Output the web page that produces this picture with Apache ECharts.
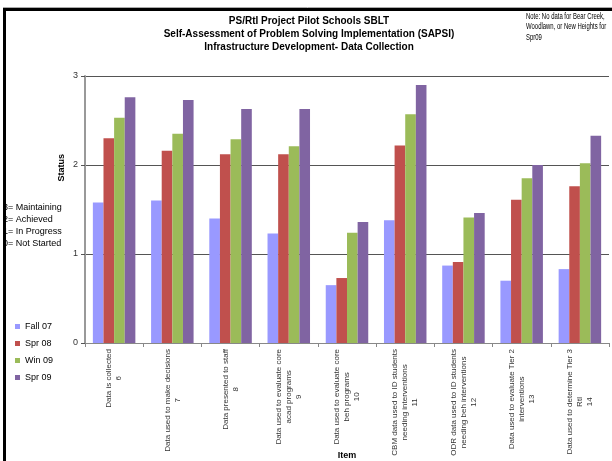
<!DOCTYPE html>
<html>
<head>
<meta charset="utf-8">
<script src="https://cdn.jsdelivr.net/npm/echarts@6/dist/echarts.min.js"></script>
<style>
  html, body { margin: 0; padding: 0; background: #fff; }
  #chart { width: 612px; height: 461px; }
</style>
</head>
<body>
<div id="chart"></div>
<script>
// Item categories (label text, item number on last line)
const categories = [
  'Data is collected\n6',
  'Data used to make decisions\n7',
  'Data presented to staff\n8',
  'Data used to evaluate core\nacad programs\n9',
  'Data used to evaluate core\nbeh programs\n10',
  'CBM data used to ID students\nneeding interventions\n11',
  'ODR data used to ID students\nneeding beh interventions\n12',
  'Data used to evaluate Tier 2\ninterventions\n13',
  'Data used to determine Tier 3\nRtI\n14'
];

// Average status per assessment window
const fall07 = [1.58, 1.60, 1.40, 1.23, 0.65, 1.38, 0.87, 0.70, 0.83];
const spr08  = [2.30, 2.16, 2.12, 2.12, 0.73, 2.22, 0.91, 1.61, 1.76];
const win09  = [2.53, 2.35, 2.29, 2.21, 1.24, 2.57, 1.41, 1.85, 2.02];
const spr09  = [2.76, 2.73, 2.63, 2.63, 1.36, 2.90, 1.46, 2.00, 2.33];

const seriesNames = ['Fall 07', 'Spr 08', 'Win 09', 'Spr 09'];
const seriesColors = ['#9999FF', '#C0504D', '#9BBB59', '#8064A2'];
const seriesData = [fall07, spr08, win09, spr09];

const yTicks = [0, 1, 2, 3];
const scaleKey = ['3= Maintaining', '2= Achieved', '1= In Progress', '0= Not Started'];

const FONT = 'Liberation Sans, Arial, sans-serif';

const chart = echarts.init(document.getElementById('chart'), null, { renderer: 'canvas' });

chart.setOption({
  animation: false,
  backgroundColor: '#ffffff',
  title: {
    text: 'PS/RtI Project Pilot Schools SBLT\nSelf-Assessment of Problem Solving Implementation (SAPSI)\nInfrastructure Development- Data Collection',
    left: 304,
    top: 10,
    textAlign: 'center',
    textStyle: { fontFamily: FONT, fontSize: 10, fontWeight: 'bold', color: '#000', lineHeight: 13 }
  },
  legend: {
    orient: 'vertical',
    left: 10,
    top: 317,
    itemWidth: 5,
    itemHeight: 5,
    itemGap: 8,
    icon: 'rect',
    data: seriesNames,
    textStyle: { fontFamily: FONT, fontSize: 9, color: '#000' }
  },
  grid: { left: 85, right: 3, top: 76, bottom: 118, containLabel: false, outerBoundsMode: 'none' },
  xAxis: {
    type: 'category',
    data: categories,
    name: 'Item',
    nameLocation: 'middle',
    nameGap: 108,
    nameMoveOverlap: false,
    nameTextStyle: { fontFamily: FONT, fontSize: 9, fontWeight: 'bold', color: '#000' },
    axisLine: { lineStyle: { color: '#888', width: 1 } },
    axisTick: { show: true, length: 4, lineStyle: { color: '#888' } },
    axisLabel: {
      interval: 0,
      rotate: 90,
      margin: 6,
      color: '#333',
      hideOverlap: false,
      formatter: function (v) {
        return v.split('\n').map(function (s) { return '{c|' + s + '}'; }).join('\n');
      },
      rich: {
        c: { align: 'center', fontFamily: FONT, fontSize: 8, lineHeight: 10, color: '#333' }
      }
    }
  },
  yAxis: {
    type: 'value',
    min: 0,
    max: 3,
    interval: 1,
    axisLine: { show: true, lineStyle: { color: '#999', width: 2 } },
    axisTick: { show: true, length: 4, lineStyle: { color: '#555' } },
    axisLabel: {
      margin: 7,
      fontFamily: FONT,
      fontSize: 9,
      color: '#333',
      formatter: function (v) { return yTicks.indexOf(v) >= 0 ? String(v) : ''; }
    },
    splitLine: { show: true, lineStyle: { color: '#555', width: 1 } }
  },
  series: seriesNames.map(function (name, i) {
    return {
      name: name,
      type: 'bar',
      data: seriesData[i],
      barGap: '0%',
      barCategoryGap: '27%',
      itemStyle: { color: seriesColors[i] }
    };
  }),
  graphic: [
    {
      type: 'text',
      left: 57,
      top: 154,
      rotation: Math.PI / 2,
      style: { text: 'Status', fontFamily: FONT, fontSize: 9, fontWeight: 'bold', fill: '#000' }
    },
    {
      type: 'text',
      left: 3,
      top: 202,
      style: { text: scaleKey.join('\n'), fontFamily: FONT, fontSize: 9, lineHeight: 12, fill: '#000' }
    },
    {
      type: 'text',
      x: 526,
      y: 11,
      scaleX: 0.7,
      style: {
        text: 'Note: No data for Bear Creek,\nWoodlawn, or New Heights for\nSpr09',
        fontFamily: FONT, fontSize: 8.5, lineHeight: 10.5, fill: '#000'
      }
    },
    {
      type: 'rect',
      z: 100,
      shape: { x: 4.5, y: 9.5, width: 700, height: 600 },
      style: { fill: 'none', stroke: '#000', lineWidth: 3 }
    },
    {
      type: 'line',
      z: 99,
      shape: { x1: 3, y1: 7.5, x2: 612, y2: 7.5 },
      style: { stroke: '#aaa', lineWidth: 1 }
    }
  ]
});
</script>
</body>
</html>
